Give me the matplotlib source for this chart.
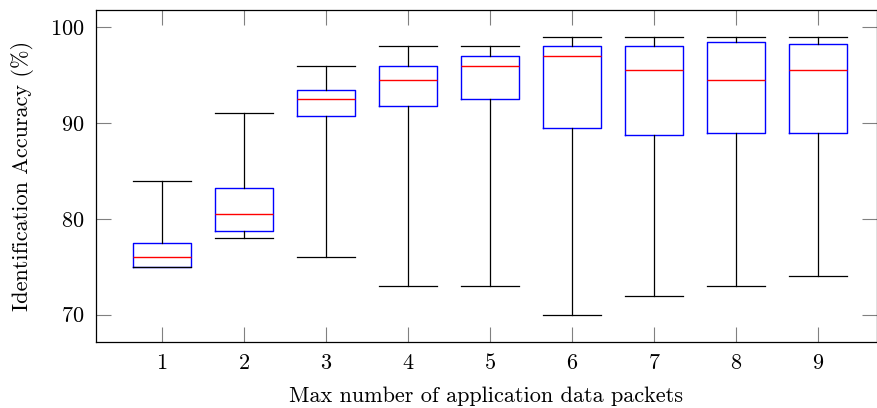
import matplotlib
matplotlib.use("Agg")
import matplotlib.pyplot as plt

plt.rcParams["font.family"] = "cmr10"
plt.rcParams["axes.formatter.use_mathtext"] = True
plt.rcParams["font.size"] = 16

# values (%)
packets = [1, 2, 3, 4, 5, 6, 7, 8, 9]
whisker_low = [75.0, 78.0, 76.0, 73.0, 73.0, 70.0, 72.0, 73.0, 74.0]
q1 = [75.0, 78.75, 90.75, 91.75, 92.5, 89.5, 88.75, 89.0, 89.0]
median = [76.0, 80.5, 92.5, 94.5, 96.0, 97.0, 95.5, 94.5, 95.5]
q3 = [77.5, 83.25, 93.5, 96.0, 97.0, 98.0, 98.0, 98.5, 98.25]
whisker_high = [84.0, 91.0, 96.0, 98.0, 98.0, 99.0, 99.0, 99.0, 99.0]

stats = []
for i, p in enumerate(packets):
    stats.append({
        "label": str(p),
        "whislo": whisker_low[i],
        "q1": q1[i],
        "med": median[i],
        "q3": q3[i],
        "whishi": whisker_high[i],
        "fliers": [],
    })

fig = plt.figure(figsize=(8.78, 4.08), dpi=100)
ax = fig.add_axes((0.1093, 0.1618, 0.8895, 0.8137))

ax.bxp(
    stats,
    positions=packets,
    widths=0.7,
    showfliers=False,
    boxprops=dict(color="blue", linewidth=1.0),
    medianprops=dict(color="red", linewidth=1.0),
    whiskerprops=dict(color="black", linewidth=0.9),
    capprops=dict(color="black", linewidth=0.9),
    capwidths=0.7,
)

ax.set_xlim(0.195, 9.72)
ax.set_ylim(67.15, 101.8)
ax.set_xticks(packets)
ax.set_xticklabels([str(p) for p in packets])
ax.set_yticks([70, 80, 90, 100])

ax.tick_params(direction="in", length=11, width=0.8, color="0.5",
               top=True, right=True, pad=8)
for s in ax.spines.values():
    s.set_linewidth(0.9)

ax.set_xlabel("Max number of application data packets", labelpad=10)
ax.set_ylabel("Identification Accuracy (%)", labelpad=12)

fig.savefig("out.png", dpi=100)
